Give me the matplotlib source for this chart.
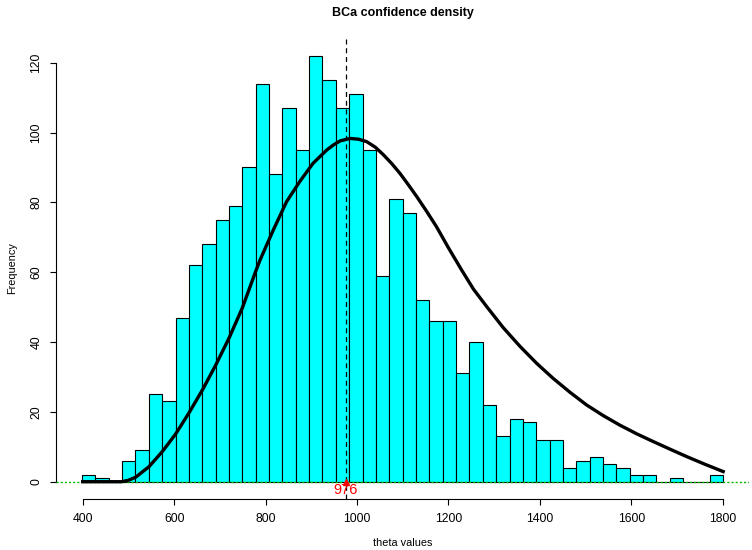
import numpy as np
import matplotlib
matplotlib.use("Agg")
import matplotlib.pyplot as plt

plt.rcParams['font.family'] = ['Liberation Sans', 'DejaVu Sans']

# conteos del histograma (2000 replicas bootstrap)
counts = [2, 1, 0, 6, 9, 25, 23, 47,
          62, 68, 75, 79, 90, 114, 88, 107, 95, 122, 115, 107, 111, 95,
          59, 81, 77, 52, 46, 46, 31, 40, 22, 13, 18, 17, 12, 12,
          4, 6, 7, 5, 4, 2, 2, 0, 1, 0, 0, 2]
bin_start = 398.5
bin_end = 1801.3

# densidad de confianza BCa (escalada a frecuencia)
curve_x = [400, 485, 500, 516, 545, 574, 603, 632, 662, 691, 720, 749, 778, 788,
           817, 846, 875, 904, 934, 948, 963, 985, 1003, 1021, 1040, 1058, 1076,
           1094, 1112, 1131, 1152, 1174, 1200, 1229, 1255, 1284, 1320, 1357,
           1393, 1429, 1466, 1502, 1539, 1575, 1612, 1648, 1685, 1721, 1761, 1801]
curve_y = [0, 0, 0.4, 1.3, 4.3, 8.6, 13.6, 19.6, 26.3, 33.4, 41.1, 49.7, 60.1, 63.5,
           72.1, 80.2, 86.0, 91.2, 95.0, 96.4, 97.6, 98.3, 98.1, 97.4, 95.8, 93.6, 91.1,
           88.3, 85.1, 81.6, 77.5, 73.0, 67.0, 60.6, 55.1, 50.1, 44.1, 38.7,
           33.9, 29.6, 25.6, 22.0, 18.9, 16.2, 13.7, 11.5, 9.3, 7.2, 5.0, 2.9]

theta_hat = 976
xticks = [400, 600, 800, 1000, 1200, 1400, 1600, 1800]
yticks = [0, 20, 40, 60, 80, 100, 120]

edges = np.linspace(bin_start, bin_end, len(counts) + 1)

fig = plt.figure(figsize=(7.52, 5.5), dpi=100)
W, H = 752, 550
ax = fig.add_axes([56 / W, 50.7 / H, (749.4 - 56) / W, (512.7 - 50.7) / H])

ax.bar(edges[:-1], counts, width=np.diff(edges), align='edge',
       color='#00FFFF', edgecolor='black', linewidth=0.8, zorder=2)
ax.plot(curve_x, curve_y, color='black', lw=2.4, zorder=4,
        solid_joinstyle='round')
ax.axhline(0, color='#00bb00', lw=1.0, ls=(0, (1.5, 1.5)), zorder=3)
ax.axvline(theta_hat, color='black', lw=0.9, ls=(0, (4, 3)), zorder=5)
ax.plot(theta_hat, 0, marker='^', color='red', ms=5, zorder=6, clip_on=False)
ax.text(theta_hat, -2.4, str(theta_hat), color='red', ha='center', va='center',
        fontsize=10.5, zorder=6)

ax.set_xlim(341.6, 1858.4)
ax.set_ylim(-5.04, 127.27)

for s in ['top', 'right']:
    ax.spines[s].set_visible(False)
ax.spines['left'].set_bounds(0, 120)
ax.spines['bottom'].set_bounds(400, 1800)
ax.spines['left'].set_linewidth(0.8)
ax.spines['bottom'].set_linewidth(0.8)

ax.set_xticks(xticks)
ax.set_yticks(yticks)
ax.set_yticklabels([str(v) for v in yticks], rotation=90, va='center')
ax.tick_params(axis='both', length=4.3, width=0.8, labelsize=8.8, pad=5.5)

fig.text(402.7 / W, 1 - 13 / H, "BCa confidence density", ha='center',
         va='center', fontsize=9, fontweight='bold')
fig.text(402.7 / W, 1 - 543 / H, "theta values", ha='center', va='center',
         fontsize=7.8)
fig.text(12 / W, 1 - 268 / H, "Frequency", ha='center', va='center',
         fontsize=7.8, rotation=90)

plt.savefig("out.png", dpi=100)
